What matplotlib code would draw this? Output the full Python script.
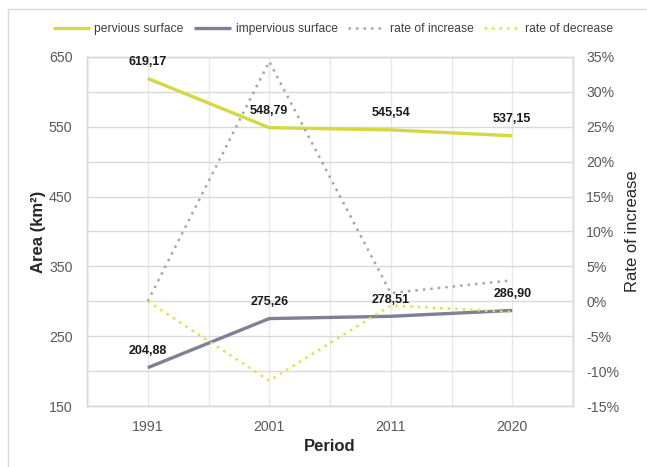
import matplotlib.pyplot as plt
from matplotlib.lines import Line2D
from matplotlib.ticker import FuncFormatter, MultipleLocator

plt.rcParams['font.family'] = ['Liberation Sans', 'DejaVu Sans']

years = ['1991', '2001', '2011', '2020']
pervious = [619.17, 548.79, 545.54, 537.15]
impervious = [204.88, 275.26, 278.51, 286.90]
# rates between consecutive periods, in percent
rate_increase = [0.0, 34.35, 1.18, 3.01]
rate_decrease = [0.0, -11.37, -0.59, -1.54]
area_ticks = [150, 250, 350, 450, 550, 650]

c_perv = '#D5D83E'
c_imp = '#7F7F95'
c_inc = '#A6A6A6'
c_dec = '#E2E23E'
c_grid = '#D9D9D9'
c_vgrid = '#E8E8E8'
c_tick = '#595959'

fig = plt.figure(figsize=(6.47, 4.67), dpi=100)
ax = fig.add_axes([87 / 647, 1 - 406 / 467, (573 - 87) / 647, (406 - 57) / 467])
ax2 = ax.twinx()

# outer frame of the chart area
fig.add_artist(Line2D([8 / 647, 8 / 647], [0, 1 - 9 / 467], transform=fig.transFigure,
                      color=c_grid, lw=1))
fig.add_artist(Line2D([8 / 647, 1], [1 - 9 / 467, 1 - 9 / 467], transform=fig.transFigure,
                      color=c_grid, lw=1))

x = list(range(len(years)))

ax.set_xlim(-0.5, 3.5)
ax.set_ylim(150, 650)
ax2.set_ylim(-15, 35)

ax.set_yticks(area_ticks)
ax.yaxis.set_minor_locator(MultipleLocator(50))
ax.xaxis.set_minor_locator(MultipleLocator(0.5))
ax.set_xticks(x)
ax.set_xticklabels(years)
ax2.yaxis.set_major_locator(MultipleLocator(5))
ax2.yaxis.set_major_formatter(FuncFormatter(lambda v, p: f'{v:.0f}%'))

ax.grid(True, axis='y', which='both', color=c_grid, lw=1)
ax.grid(True, axis='x', which='both', color=c_vgrid, lw=1)
ax.set_axisbelow(True)
for a in (ax, ax2):
    for s in a.spines.values():
        s.set_color(c_grid)
        s.set_linewidth(1)
    a.tick_params(which='both', length=0, colors=c_tick, labelsize=10.2)
ax.tick_params(axis='y', pad=10.5)
ax.tick_params(axis='x', pad=10)
ax2.tick_params(axis='y', pad=9.5)

l1, = ax.plot(x, pervious, color=c_perv, lw=2.4, solid_capstyle='butt', label='pervious surface')
l2, = ax.plot(x, impervious, color=c_imp, lw=2.4, solid_capstyle='butt', label='impervious surface')
l3, = ax2.plot(x, rate_increase, color=c_inc, lw=1.8, ls=(0, (1, 2)), label='rate of increase')
l4, = ax2.plot(x, rate_decrease, color=c_dec, lw=1.8, ls=(0, (1, 2)), label='rate of decrease')

# value labels above each area point, drawn on the top axes so they sit over the rate lines
for series in (pervious, impervious):
    for xi, v in zip(x, series):
        ax2.annotate(f'{v:.2f}'.replace('.', ','), xy=(xi, v), xycoords=ax.transData,
                     xytext=(0, 7.5), textcoords='offset points', ha='center', va='bottom',
                     fontsize=9, fontweight='bold', color='#1a1a1a', zorder=10)

ax.set_xlabel('Period', fontsize=12, fontweight='bold', color='#262626', labelpad=4)
ax.set_ylabel('Area (km²)', fontsize=12, fontweight='bold', color='#262626', labelpad=2)
ax2.set_ylabel('Rate of increase', fontsize=12, color='#262626', labelpad=4)

fig.legend(handles=[l1, l2, l3, l4], loc='center', bbox_to_anchor=(333 / 647, 1 - 29 / 467),
           ncol=4, frameon=False, fontsize=8.7, handlelength=3.1, handletextpad=0.35,
           columnspacing=0.85, labelcolor='#404040', borderaxespad=0)

fig.savefig('out.png', dpi=100)
